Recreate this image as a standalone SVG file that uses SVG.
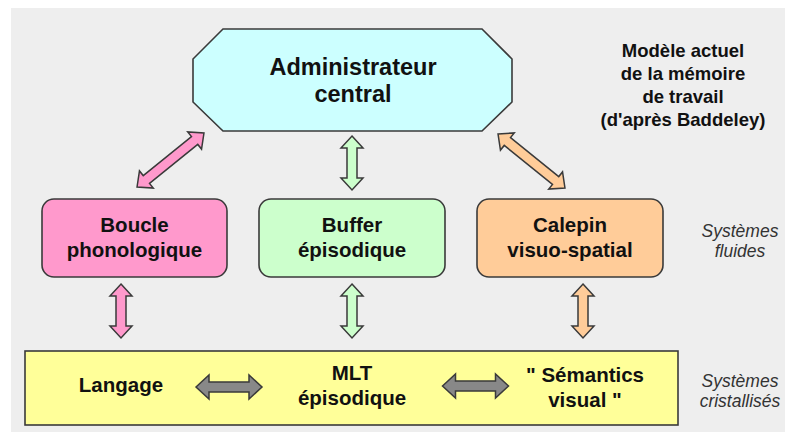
<svg xmlns="http://www.w3.org/2000/svg" xmlns:xlink="http://www.w3.org/1999/xlink" width="785" height="434" viewBox="0 0 785 434">
<style>
.box{stroke:#3a3a3a;stroke-width:1.6}
.arr{stroke:#3a3a3a;stroke-width:1.5;stroke-linejoin:miter}
.lbl{font-family:"Liberation Sans",Arial,sans-serif;font-weight:bold;font-size:20.5px;fill:#111;text-anchor:middle}
.big{font-size:23.5px}
.ttl{font-family:"Liberation Sans",Arial,sans-serif;font-weight:bold;font-size:18.5px;fill:#111;text-anchor:middle}
.ita{font-family:"Liberation Sans",Arial,sans-serif;font-style:italic;font-size:17.5px;fill:#333;text-anchor:middle}
</style>
<defs>
<path id="a54" d="M-27 0 L-15 -11 L-15 -5 L15 -5 L15 -11 L27 0 L15 11 L15 5 L-15 5 L-15 11 Z"/>
<path id="a86" d="M-43 0 L-31 -11 L-31 -5 L31 -5 L31 -11 L43 0 L31 11 L31 5 L-31 5 L-31 11 Z"/>
<path id="a66" d="M-33 0 L-20 -12 L-20 -5 L20 -5 L20 -12 L33 0 L20 12 L20 5 L-20 5 L-20 12 Z"/>
</defs>
<rect x="11" y="8" width="774" height="424" fill="#eeeeee"/>

<g id="admin">
<polygon class="box" fill="#ccffff" points="223,29 482,29 512,59 512,102 482,131 223,131 193,102 193,59"/>
<text class="lbl big" x="353" y="75">Administrateur</text>
<text class="lbl big" x="353" y="102">central</text>
</g>

<g id="boucle">
<rect class="box" fill="#ff99cc" x="42" y="199" width="185" height="78" rx="12"/>
<text class="lbl" x="134.5" y="232">Boucle</text>
<text class="lbl" x="134.5" y="257">phonologique</text>
</g>

<g id="buffer">
<rect class="box" fill="#ccffcc" x="259" y="199" width="186" height="78" rx="12"/>
<text class="lbl" x="352" y="232">Buffer</text>
<text class="lbl" x="352" y="257">épisodique</text>
</g>

<g id="calepin">
<rect class="box" fill="#ffcc99" x="477" y="199" width="186" height="78" rx="12"/>
<text class="lbl" x="570" y="232">Calepin</text>
<text class="lbl" x="570" y="257">visuo-spatial</text>
</g>

<g id="mlt">
<rect class="box" fill="#ffff99" x="25" y="351" width="653" height="74"/>
<text class="lbl" x="121" y="392">Langage</text>
<text class="lbl" x="352" y="380">MLT</text>
<text class="lbl" x="352" y="405">épisodique</text>
<text class="lbl" x="585" y="382">" Sémantics</text>
<text class="lbl" x="585" y="407">visual "</text>
</g>

<g id="connectors">
<use xlink:href="#a86" class="arr" fill="#ff99cc" transform="translate(170.5 160) rotate(-38.9)"/>
<use xlink:href="#a54" class="arr" fill="#ccffcc" transform="translate(352 163) rotate(90)"/>
<use xlink:href="#a86" class="arr" fill="#ffcc99" transform="translate(531.5 161) rotate(38.9)"/>
<use xlink:href="#a54" class="arr" fill="#ff99cc" transform="translate(121 311) rotate(90)"/>
<use xlink:href="#a54" class="arr" fill="#ccffcc" transform="translate(352 311) rotate(90)"/>
<use xlink:href="#a54" class="arr" fill="#ffcc99" transform="translate(583 311) rotate(90)"/>
<use xlink:href="#a66" class="arr" fill="#888888" transform="translate(229 387)"/>
<use xlink:href="#a66" class="arr" fill="#888888" transform="translate(475.5 386)"/>
</g>

<g id="title">
<text class="ttl" x="683" y="57">Modèle actuel</text>
<text class="ttl" x="683" y="80">de la mémoire</text>
<text class="ttl" x="683" y="103">de travail</text>
<text class="ttl" x="683" y="126">(d'après Baddeley)</text>
</g>

<g id="notes">
<text class="ita" x="740" y="237">Systèmes</text>
<text class="ita" x="740" y="257">fluides</text>
<text class="ita" x="740" y="387">Systèmes</text>
<text class="ita" x="740" y="407">cristallisés</text>
</g>
</svg>
